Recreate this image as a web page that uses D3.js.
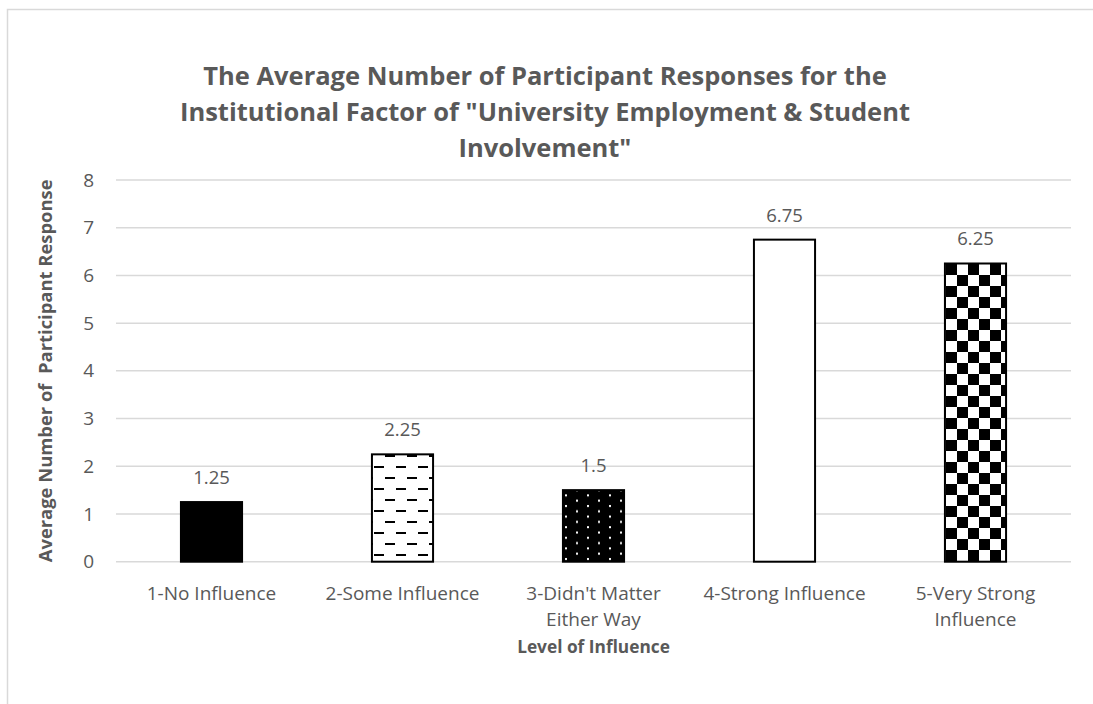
<!DOCTYPE html>
<html>
<head>
<meta charset="utf-8">
<script src="https://cdn.jsdelivr.net/npm/d3@7"></script>
<style>
  html, body { margin: 0; padding: 0; background: #fff; }
  svg { display: block; font-family: "Open Sans", "Noto Sans", sans-serif; }
</style>
</head>
<body>
<svg id="chart" width="1093" height="704"></svg>
<script>
// Chart data
const categories = [
  ["1-No Influence"],
  ["2-Some Influence"],
  ["3-Didn't Matter", "Either Way"],
  ["4-Strong Influence"],
  ["5-Very Strong", "Influence"]
];
const values = [1.25, 2.25, 1.5, 6.75, 6.25];
const valueLabels = ["1.25", "2.25", "1.5", "6.75", "6.25"];
const yTicks = [0, 1, 2, 3, 4, 5, 6, 7, 8];
const patternIds = ["solid", "dashes", "dots", "plain", "checker"];

const titleLines = [
  "The Average Number of Participant Responses for the",
  "Institutional Factor of \"University Employment & Student",
  "Involvement\""
];
const yTitle = "Average Number of\u00a0 Participant Response";
const xTitle = "Level of Influence";

const svg = d3.select("#chart");
const textColor = "#595959";
const gridColor = "#d9d9d9";

// Chart frame
svg.append("rect")
  .attr("x", 7.5).attr("y", 9.5)
  .attr("width", 1100).attr("height", 720)
  .attr("fill", "#fff").attr("stroke", gridColor).attr("stroke-width", 1.5);

// Fill patterns
const defs = svg.append("defs");

const pDash = defs.append("pattern").attr("id", "dashes")
  .attr("patternUnits", "userSpaceOnUse").attr("width", 22).attr("height", 22);
pDash.append("rect").attr("width", 22).attr("height", 22).attr("fill", "#fff");
pDash.append("rect").attr("x", 0).attr("y", 4).attr("width", 10).attr("height", 2).attr("fill", "#000");
pDash.append("rect").attr("x", 11).attr("y", 15).attr("width", 10).attr("height", 2).attr("fill", "#000");

const pDots = defs.append("pattern").attr("id", "dots")
  .attr("patternUnits", "userSpaceOnUse").attr("width", 22).attr("height", 10.6);
pDots.append("rect").attr("width", 22).attr("height", 10.6).attr("fill", "#000");
pDots.append("rect").attr("x", 4).attr("y", 1.5).attr("width", 2).attr("height", 2).attr("fill", "#fff");
pDots.append("rect").attr("x", 15).attr("y", 6.8).attr("width", 2).attr("height", 2).attr("fill", "#fff");

const pChk = defs.append("pattern").attr("id", "checker")
  .attr("patternUnits", "userSpaceOnUse").attr("width", 22).attr("height", 22)
  .attr("x", 0).attr("y", 0);
pChk.append("rect").attr("width", 22).attr("height", 22).attr("fill", "#fff");
pChk.append("rect").attr("x", 0).attr("y", 0).attr("width", 11).attr("height", 11).attr("fill", "#000");
pChk.append("rect").attr("x", 11).attr("y", 11).attr("width", 11).attr("height", 11).attr("fill", "#000");

const fillFor = id => id === "solid" ? "#000" : id === "plain" ? "#fff" : `url(#${id})`;

// Scales
const plot = { left: 116, right: 1071, top: 180, bottom: 561.7 };
const x = d3.scaleBand()
  .domain(categories.map((c, i) => i))
  .range([plot.left, plot.right])
  .paddingInner(0.68).paddingOuter(0.34);
const y = d3.scaleLinear().domain([0, 8]).range([plot.bottom, plot.top]);

// Gridlines
svg.append("g")
  .selectAll("line").data(yTicks).join("line")
  .attr("x1", plot.left).attr("x2", plot.right)
  .attr("y1", d => y(d)).attr("y2", d => y(d))
  .attr("stroke", gridColor).attr("stroke-width", 1.5);

// Y axis tick labels
const yAxis = d3.axisLeft(y).tickValues(yTicks).tickSize(0).tickPadding(0).tickFormat(d3.format("d"));
const yG = svg.append("g").attr("transform", `translate(${plot.left - 22},0)`).call(yAxis);
yG.select(".domain").remove();
yG.selectAll("text")
  .attr("fill", textColor).attr("font-size", 19).attr("font-family", "Open Sans, sans-serif");

// Bars
svg.append("g")
  .selectAll("rect").data(values).join("rect")
  .attr("x", (d, i) => x(i))
  .attr("width", x.bandwidth())
  .attr("y", d => y(d))
  .attr("height", d => y(0) - y(d))
  .attr("fill", (d, i) => fillFor(patternIds[i]))
  .attr("stroke", "#000").attr("stroke-width", 2);

// Value labels
svg.append("g")
  .selectAll("text").data(values).join("text")
  .attr("x", (d, i) => x(i) + x.bandwidth() / 2)
  .attr("y", d => y(d) - 18)
  .attr("text-anchor", "middle")
  .attr("fill", textColor).attr("font-size", 18.5)
  .text((d, i) => valueLabels[i]);

// Category labels, one text element per line
const catG = svg.append("g");
categories.forEach((lines, i) => {
  lines.forEach((ln, j) => {
    catG.append("text")
      .attr("x", x(i) + x.bandwidth() / 2)
      .attr("y", 600 + j * 26)
      .attr("text-anchor", "middle")
      .attr("fill", textColor).attr("font-size", 19)
      .text(ln);
  });
});

// Axis titles
svg.append("text")
  .attr("x", (plot.left + plot.right) / 2).attr("y", 653)
  .attr("text-anchor", "middle").attr("font-weight", "bold")
  .attr("fill", textColor).attr("font-size", 17.3)
  .text(xTitle);

svg.append("text")
  .attr("transform", `translate(52,${(plot.top + plot.bottom) / 2}) rotate(-90)`)
  .attr("text-anchor", "middle").attr("font-weight", "bold")
  .attr("fill", textColor).attr("font-size", 18.4)
  .text(yTitle);

// Title
const title = svg.append("text")
  .attr("text-anchor", "middle").attr("font-weight", "bold")
  .attr("fill", textColor).attr("font-size", 25.5);
titleLines.forEach((ln, j) => {
  title.append("tspan").attr("x", 545).attr("y", 85 + j * 36).text(ln);
});
</script>
</body>
</html>
